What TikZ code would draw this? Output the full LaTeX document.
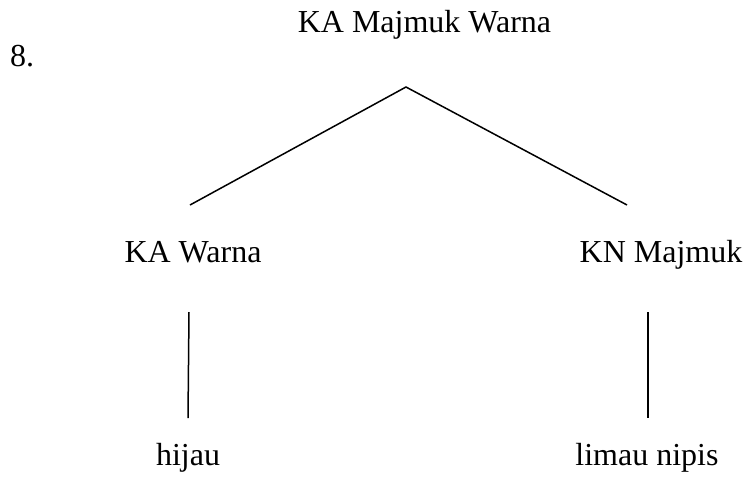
\documentclass[tikz,border=0pt]{standalone}
\usepackage{fontspec}
\setmainfont{Liberation Serif}
\begin{document}
\begin{tikzpicture}[x=1pt,y=1pt,
  lbl/.style={inner sep=0pt, anchor=base, font=\fontsize{32}{38}\selectfont},
  edge/.style={line width=1.5pt, line cap=butt}]
\useasboundingbox (0,0) rectangle (747,-485);
\node[lbl, anchor=base west] (num) at (10,-66) {8.};
\node[lbl] (top) at (424.5,-32) {KA Majmuk Warna};
\node[lbl] (kaw) at (193,-262) {KA Warna};
\node[lbl] (knm) at (661,-262) {KN Majmuk};
\node[lbl] (hij) at (188,-465) {hijau};
\node[lbl] (lim) at (647,-465) {limau nipis};
\coordinate (apex) at (406,-87);
\coordinate (lend) at (190,-205);
\coordinate (rend) at (627,-205);
\coordinate (lvt) at (189,-312);
\coordinate (lvb) at (188,-418);
\coordinate (rvt) at (648,-312);
\coordinate (rvb) at (648,-418);
\draw[edge] (lend) -- (apex) -- (rend);
\draw[edge] (lvt) -- (lvb);
\draw[edge] (rvt) -- (rvb);
\end{tikzpicture}
\end{document}
